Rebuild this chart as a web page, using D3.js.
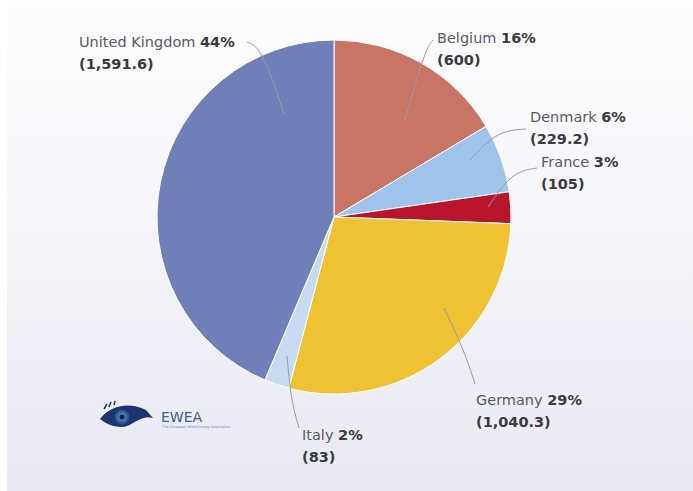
<!DOCTYPE html>
<html>
<head>
<meta charset="utf-8">
<script src="https://cdn.jsdelivr.net/npm/d3@7"></script>
<style>
  html, body { margin: 0; padding: 0; background: #ffffff; }
  svg { display: block; }
  text { font-family: "DejaVu Sans", Verdana, sans-serif; }
</style>
</head>
<body>
<svg id="chart" width="693" height="491"></svg>
<script>
// Installed offshore wind capacity by country (MW)
const countries = ["Belgium", "Denmark", "France", "Germany", "Italy", "United Kingdom"];
const capacity  = [600, 229.2, 105, 1040.3, 83, 1591.6];
const shares    = ["16%", "6%", "3%", "29%", "2%", "44%"];
const valueText = ["(600)", "(229.2)", "(105)", "(1,040.3)", "(83)", "(1,591.6)"];
const colors    = ["#c97566", "#9fc4ec", "#b8142b", "#efc234", "#c8daf2", "#6f7fb8"];

// label placement and leader-line routing
const labelLayout = {
  "Belgium":        { x: 437, y: 43,  leader: [[433, 40], [425, 50], [405, 120]] },
  "Denmark":        { x: 530, y: 122, leader: [[526, 129], [497, 131], [470, 160]] },
  "France":         { x: 541, y: 167, leader: [[537, 168], [512, 172], [488, 207]] },
  "Germany":        { x: 476, y: 405, leader: [[475, 384], [464, 350], [444, 308]] },
  "Italy":          { x: 302, y: 440, leader: [[299, 428], [291, 400], [287, 356]] },
  "United Kingdom": { x: 79,  y: 47,  leader: [[247, 42], [262, 48], [284, 114]] }
};

const W = 693, H = 491;
const cx = 334, cy = 217, radius = 177;

const svg = d3.select("#chart");
const defs = svg.append("defs");

// soft backdrop panel
const bg = defs.append("linearGradient").attr("id", "bg").attr("x1", 0).attr("y1", 0).attr("x2", 0).attr("y2", 1);
bg.append("stop").attr("offset", "0%").attr("stop-color", "#fdfdff");
bg.append("stop").attr("offset", "30%").attr("stop-color", "#f8f8fc");
bg.append("stop").attr("offset", "100%").attr("stop-color", "#e9e9f4");
svg.append("rect").attr("width", W).attr("height", H).attr("fill", "#ffffff");
svg.append("rect").attr("x", 7).attr("y", 0).attr("width", W - 7).attr("height", H).attr("fill", "url(#bg)");

// pie
const pie = d3.pie().sort(null).value(d => d.value);
const data = countries.map((c, i) => ({ name: c, value: capacity[i], share: shares[i], label: valueText[i], color: colors[i] }));
const arcs = pie(data);
const arc = d3.arc().innerRadius(0).outerRadius(radius);

const g = svg.append("g").attr("transform", `translate(${cx},${cy})`);
g.selectAll("path.slice")
  .data(arcs)
  .join("path")
  .attr("class", "slice")
  .attr("d", arc)
  .attr("fill", d => d.data.color)
  .attr("stroke", "#ffffff")
  .attr("stroke-width", 1);

// leader lines
const line = d3.line().curve(d3.curveBasis);
svg.append("g").selectAll("path.leader")
  .data(data)
  .join("path")
  .attr("class", "leader")
  .attr("d", d => line(labelLayout[d.name].leader))
  .attr("fill", "none")
  .attr("stroke", "#9a9aa6")
  .attr("stroke-width", 1);

// labels
const labels = svg.append("g").selectAll("g.label")
  .data(data)
  .join("g")
  .attr("class", "label")
  .attr("transform", d => `translate(${labelLayout[d.name].x},${labelLayout[d.name].y})`);

const first = labels.append("text")
  .attr("font-size", 14.5)
  .attr("fill", "#5a5a62");
first.append("tspan").text(d => d.name + " ");
first.append("tspan").attr("font-weight", "bold").attr("fill", "#3a3a40").text(d => d.share);

labels.append("text")
  .attr("y", 22)
  .attr("font-size", 14.5)
  .attr("font-weight", "bold")
  .attr("fill", "#3a3a40")
  .text(d => d.label);

// EWEA logo mark
const logo = svg.append("g");
const eyeGrad = defs.append("radialGradient").attr("id", "iris");
eyeGrad.append("stop").attr("offset", "0%").attr("stop-color", "#6f9fd6");
eyeGrad.append("stop").attr("offset", "100%").attr("stop-color", "#1f4a8c");
logo.append("path")
  .attr("d", "M100,419 C110,406 128,401 146,410 L153,418 C140,414 134,426 122,427 C112,427 105,423 100,419 Z")
  .attr("fill", "#1c3470");
logo.append("path")
  .attr("d", "M104,409 L107,404 M109,407 L111,402 M114,405 L115,401")
  .attr("stroke", "#1c3470").attr("stroke-width", 1.5);
logo.append("circle").attr("cx", 122).attr("cy", 417).attr("r", 7.5).attr("fill", "url(#iris)");
logo.append("circle").attr("cx", 122).attr("cy", 417).attr("r", 2.5).attr("fill", "#0f1f48");
logo.append("text")
  .attr("x", 161).attr("y", 422)
  .attr("font-size", 14).attr("fill", "#3a5d9e")
  .attr("font-family", "Liberation Sans, Arial, sans-serif")
  .text("EWEA");
logo.append("text")
  .attr("x", 162).attr("y", 428)
  .attr("font-size", 3.5).attr("fill", "#7a8cb0")
  .attr("font-family", "Liberation Sans, Arial, sans-serif")
  .text("The European Wind Energy Association");
</script>
</body>
</html>
